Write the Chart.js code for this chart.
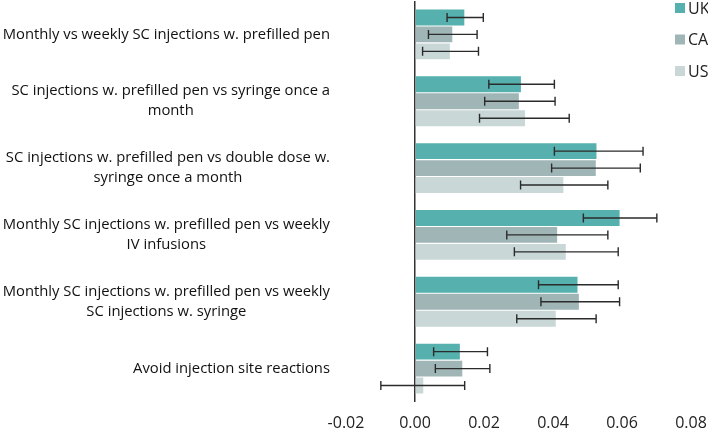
<!DOCTYPE html>
<html>
<head>
<meta charset="utf-8">
<script src="https://cdn.jsdelivr.net/npm/chart.js@4"></script>
<style>
    html, body { margin: 0; padding: 0; background: #fff; overflow: hidden; }
    #wrap { width: 708px; height: 429px; }
</style>
</head>
<body>
<div id="wrap"><canvas id="chart"></canvas></div>
<script>
(function () {
    var categories = [
        ["Monthly vs weekly SC injections w. prefilled pen"],
        ["SC injections w. prefilled pen vs syringe once a", "month"],
        ["SC injections w. prefilled pen vs double dose w.", "syringe once a month"],
        ["Monthly SC injections w. prefilled pen vs weekly", "IV infusions"],
        ["Monthly SC injections w. prefilled pen vs weekly", "SC injections w. syringe"],
        ["Avoid injection site reactions"]
    ];

    var seriesNames = ["UK", "CA", "US"];
    var seriesColors = ["#55b0ae", "#a0b6b6", "#c9d7d7"];

    var ukValues = [0.0143, 0.0307, 0.0526, 0.0593, 0.0471, 0.0130];
    var ukLow    = [0.0093, 0.0214, 0.0404, 0.0488, 0.0358, 0.0054];
    var ukHigh   = [0.0198, 0.0404, 0.0661, 0.0701, 0.0589, 0.0210];

    var caValues = [0.0108, 0.0301, 0.0524, 0.0412, 0.0475, 0.0137];
    var caLow    = [0.0039, 0.0202, 0.0396, 0.0266, 0.0365, 0.0059];
    var caHigh   = [0.0180, 0.0406, 0.0653, 0.0559, 0.0593, 0.0217];

    var usValues = [0.0101, 0.0319, 0.0430, 0.0437, 0.0408, 0.0024];
    var usLow    = [0.0022, 0.0187, 0.0306, 0.0288, 0.0295, -0.0099];
    var usHigh   = [0.0184, 0.0447, 0.0559, 0.0589, 0.0525, 0.0144];

    var xTicks = [-0.02, 0.00, 0.02, 0.04, 0.06, 0.08];

    var values = [ukValues, caValues, usValues];
    var lows = [ukLow, caLow, usLow];
    var highs = [ukHigh, caHigh, usHigh];

    var labelFont = "14.8px 'Open Sans'";

    // error bars with caps
    var errorBars = {
        id: 'errorBars',
        afterDatasetsDraw: function (chart) {
            var ctx = chart.ctx, xs = chart.scales.x;
            ctx.save();
            ctx.strokeStyle = '#2b2b2b';
            ctx.lineWidth = 1.4;
            chart.data.datasets.forEach(function (ds, di) {
                var meta = chart.getDatasetMeta(di);
                meta.data.forEach(function (bar, i) {
                    var y = bar.y;
                    var x1 = xs.getPixelForValue(lows[di][i]);
                    var x2 = xs.getPixelForValue(highs[di][i]);
                    ctx.beginPath();
                    ctx.moveTo(x1, y); ctx.lineTo(x2, y);
                    ctx.moveTo(x1, y - 4.5); ctx.lineTo(x1, y + 4.5);
                    ctx.moveTo(x2, y - 4.5); ctx.lineTo(x2, y + 4.5);
                    ctx.stroke();
                });
            });
            ctx.restore();
        }
    };

    // category labels: block right aligned, lines centred in block
    var catLabels = {
        id: 'catLabels',
        afterDraw: function (chart) {
            var ctx = chart.ctx, ys = chart.scales.y;
            var right = chart.chartArea.left - 16;
            ctx.save();
            ctx.font = labelFont;
            ctx.fillStyle = '#111';
            ctx.textAlign = 'center';
            ctx.textBaseline = 'middle';
            var lh = 20;
            categories.forEach(function (lines, i) {
                var w = Math.max.apply(null, lines.map(function (l) { return ctx.measureText(l).width; }));
                var cx = right - w / 2;
                var cy = ys.getPixelForValue(i);
                var y0 = cy - (lines.length - 1) * lh / 2;
                lines.forEach(function (l, k) {
                    ctx.fillText(l, cx, y0 + k * lh);
                });
            });
            ctx.restore();
        }
    };

    // legend in upper right corner
    var cornerLegend = {
        id: 'cornerLegend',
        afterDraw: function (chart) {
            var ctx = chart.ctx;
            ctx.save();
            ctx.font = "16px 'Open Sans'";
            ctx.textBaseline = 'middle';
            ctx.textAlign = 'left';
            seriesNames.forEach(function (name, i) {
                var cy = 8 + i * 31.5;
                ctx.fillStyle = seriesColors[i];
                ctx.fillRect(675, cy - 5, 10, 10);
                ctx.fillStyle = '#222';
                ctx.fillText(name, 688, cy + 1);
            });
            ctx.restore();
        }
    };

    var datasets = seriesNames.map(function (name, i) {
        return {
            label: name,
            data: values[i],
            backgroundColor: seriesColors[i],
            borderWidth: 0,
            categoryPercentage: 0.76,
            barPercentage: 0.94
        };
    });

    new Chart(document.getElementById('chart'), {
        type: 'bar',
        data: {
            labels: categories.map(function (c) { return c.join(' '); }),
            datasets: datasets
        },
        options: {
            indexAxis: 'y',
            responsive: true,
            maintainAspectRatio: false,
            animation: false,
            layout: { padding: { left: 346, right: 0, top: 1, bottom: 0 } },
            plugins: {
                legend: { display: false },
                tooltip: { enabled: false }
            },
            scales: {
                x: {
                    type: 'linear',
                    min: -0.02,
                    max: 0.08,
                    afterBuildTicks: function (axis) {
                        axis.ticks = xTicks.map(function (v) { return { value: v }; });
                    },
                    afterFit: function (axis) {
                        axis.height = 27;
                        axis.paddingLeft = 0;
                        axis.paddingRight = 17;
                    },
                    border: { display: false },
                    grid: {
                        drawTicks: false,
                        lineWidth: 1.5,
                        color: function (c) {
                            return c.tick && Math.abs(c.tick.value) < 1e-9 ? '#333' : 'rgba(0,0,0,0)';
                        }
                    },
                    ticks: {
                        padding: 12,
                        color: '#222',
                        font: { family: 'Open Sans', size: 16 },
                        callback: function (v) { return Number(v).toFixed(2); }
                    }
                },
                y: {
                    afterFit: function (axis) { axis.width = 0; },
                    border: { display: false },
                    grid: { display: false },
                    ticks: { display: false }
                }
            }
        },
        plugins: [errorBars, catLabels, cornerLegend]
    });
})();
</script>
</body>
</html>
